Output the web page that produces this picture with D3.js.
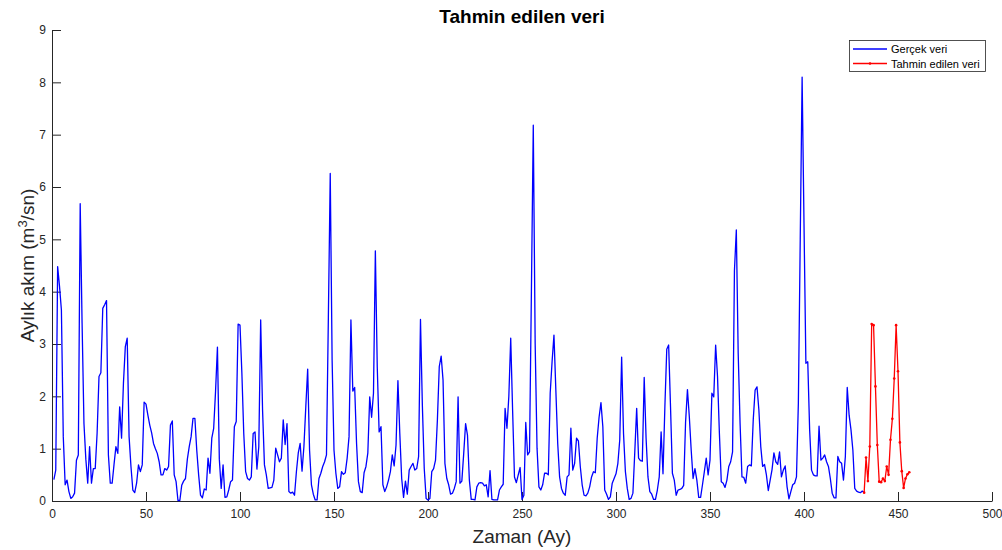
<!DOCTYPE html>
<html>
<head>
<meta charset="utf-8">
<script src="https://cdn.jsdelivr.net/npm/d3@7"></script>
<style>
  html, body { margin: 0; padding: 0; background: #fff; }
  svg { display: block; font-family: "Liberation Sans", Arial, Helvetica, sans-serif; }
</style>
</head>
<body>
<svg id="chart" width="1002" height="550"></svg>
<script>
// Monthly flow series (m3/s), months 1..432
const observedStart = 1;
const observed = [
  0.41, 0.59, 4.48, 4.10, 3.65, 1.23, 0.31, 0.40, 0.18, 0.05,
  0.08, 0.15, 0.78, 0.88, 5.68, 3.40, 1.48, 0.80, 0.34, 1.04,
  0.34, 0.62, 0.62, 1.30, 2.38, 2.45, 3.68, 3.75, 3.83, 0.88,
  0.34, 0.34, 0.70, 1.04, 0.91, 1.80, 1.20, 2.25, 2.95, 3.11,
  1.23, 0.66, 0.21, 0.16, 0.34, 0.69, 0.56, 0.69, 1.89, 1.85,
  1.64, 1.45, 1.30, 1.10, 1.00, 0.91, 0.75, 0.50, 0.50, 0.62,
  0.59, 0.66, 1.45, 1.53, 0.50, 0.37, 0.01, 0.01, 0.30, 0.38,
  0.43, 0.80, 1.04, 1.23, 1.58, 1.58, 0.97, 0.50, 0.11, 0.06,
  0.23, 0.21, 0.82, 0.53, 1.20, 1.39, 2.10, 2.94, 0.80, 0.24,
  0.69, 0.07, 0.08, 0.21, 0.37, 0.40, 1.42, 1.52, 3.38, 3.36,
  2.44, 1.29, 0.56, 0.43, 0.40, 0.46, 1.29, 1.32, 0.61, 1.04,
  3.46, 1.74, 0.69, 0.50, 0.24, 0.25, 0.26, 0.40, 1.01, 0.88,
  0.75, 0.82, 1.55, 1.08, 1.48, 0.18, 0.15, 0.17, 0.11, 0.56,
  0.92, 1.10, 0.57, 1.04, 1.80, 2.52, 0.97, 0.31, 0.13, 0.02,
  0.02, 0.43, 0.53, 0.66, 0.75, 0.88, 3.50, 6.26, 2.69, 0.97,
  0.53, 0.24, 0.27, 0.56, 0.51, 0.54, 0.82, 1.23, 3.46, 2.10,
  2.17, 1.10, 0.37, 0.18, 0.16, 0.54, 0.66, 0.92, 1.99, 1.60,
  2.06, 4.78, 2.57, 1.32, 1.42, 0.31, 0.18, 0.27, 0.40, 0.56,
  0.88, 0.67, 1.07, 2.30, 1.29, 0.43, 0.07, 0.38, 0.13, 0.59,
  0.66, 0.72, 0.59, 0.62, 0.85, 3.47, 1.83, 0.62, 0.05, 0.02,
  0.05, 0.56, 0.62, 0.78, 1.55, 2.57, 2.77, 2.31, 0.72, 0.43,
  0.31, 0.13, 0.15, 0.24, 0.37, 1.99, 0.34, 0.38, 0.91, 1.48,
  1.26, 0.40, 0.03, 0.03, 0.02, 0.27, 0.34, 0.35, 0.34, 0.29,
  0.31, 0.08, 0.58, 0.03, 0.02, 0.02, 0.02, 0.21, 0.27, 0.32,
  1.77, 1.39, 2.00, 3.11, 1.74, 0.46, 0.35, 0.50, 0.64, 0.03,
  0.11, 1.50, 0.88, 0.94, 4.00, 7.18, 3.01, 1.01, 0.27, 0.21,
  0.31, 0.53, 0.53, 0.50, 2.06, 2.66, 3.17, 2.12, 1.10, 0.46,
  0.24, 0.15, 0.11, 0.46, 0.50, 1.39, 0.59, 0.72, 1.20, 1.15,
  0.66, 0.31, 0.11, 0.10, 0.15, 0.27, 0.46, 0.56, 0.54, 1.20,
  1.60, 1.88, 1.42, 0.21, 0.13, 0.03, 0.08, 0.34, 0.43, 0.52,
  0.72, 1.17, 2.75, 1.29, 0.56, 0.24, 0.03, 0.05, 0.15, 0.94,
  1.77, 0.82, 0.77, 0.76, 2.36, 1.20, 0.46, 0.18, 0.13, 0.03,
  0.03, 0.21, 0.46, 1.32, 0.52, 1.80, 2.90, 2.98, 1.80, 0.53,
  0.40, 0.11, 0.21, 0.22, 0.24, 0.30, 1.50, 2.13, 1.61, 0.97,
  0.43, 0.62, 0.40, 0.07, 0.07, 0.31, 0.56, 0.82, 0.50, 0.78,
  2.06, 1.99, 2.98, 2.38, 1.29, 0.37, 0.34, 0.26, 0.40, 0.66,
  0.75, 0.94, 4.40, 5.18, 2.82, 1.48, 0.46, 0.45, 0.34, 0.66,
  0.69, 0.67, 1.55, 2.12, 2.18, 1.74, 1.04, 0.66, 0.70, 0.50,
  0.20, 0.40, 0.60, 0.92, 0.75, 0.70, 0.94, 0.46, 0.59, 0.67,
  0.27, 0.04, 0.18, 0.31, 0.34, 0.46, 1.87, 5.00, 8.10, 5.30,
  2.63, 2.66, 1.36, 0.59, 0.50, 0.48, 0.48, 1.43, 0.78, 0.82,
  0.88, 0.75, 0.66, 0.43, 0.15, 0.06, 0.06, 0.85, 0.75, 0.72,
  0.40, 0.85, 2.17, 1.64, 1.36, 0.97, 0.24, 0.19, 0.17, 0.16,
  0.19, 0.16
];

// Forecast series, months 432..456
const forecastStart = 432;
const forecast = [
  0.16, 0.83, 0.38, 1.04, 3.38, 3.36, 2.19, 1.07, 0.37, 0.36,
  0.43, 0.38, 0.66, 0.50, 1.17, 1.57, 2.34, 3.36, 2.48, 1.12,
  0.57, 0.25, 0.43, 0.51, 0.55
];

const xTicks = [0, 50, 100, 150, 200, 250, 300, 350, 400, 450, 500];
const yTicks = [0, 1, 2, 3, 4, 5, 6, 7, 8, 9];
const seriesNames = ["Gerçek veri", "Tahmin edilen veri"];
const chartTitle = "Tahmin edilen veri";
const xTitle = "Zaman (Ay)";

const axisColor = "#262626";
const margin = { left: 52, right: 10, top: 30, bottom: 49 };
const width = 1002, height = 550;

const svg = d3.select("#chart");
svg.append("rect").attr("width", width).attr("height", height).attr("fill", "#fff");

const x = d3.scaleLinear().domain([0, 500]).range([margin.left, width - margin.right]);
const y = d3.scaleLinear().domain([0, 9]).range([height - margin.bottom, margin.top]);

const toPoints = (vals, start) => vals.map((v, i) => ({ m: start + i, v }));
const obsPts = toPoints(observed, observedStart);
const fcPts = toPoints(forecast, forecastStart);

const line = d3.line().x(d => x(d.m)).y(d => y(d.v));

// Axes (ticks pointing inward)
const xAxis = d3.axisBottom(x).tickValues(xTicks).tickSizeInner(-9).tickSizeOuter(0).tickPadding(8);
const yAxis = d3.axisLeft(y).tickValues(yTicks).tickSizeInner(-9).tickSizeOuter(0).tickPadding(6);

const gx = svg.append("g").attr("transform", `translate(0,${y(0)})`).call(xAxis);
const gy = svg.append("g").attr("transform", `translate(${x(0)},0)`).call(yAxis);
[gx, gy].forEach(g => {
  g.select(".domain").attr("stroke", axisColor).attr("stroke-width", 1);
  g.selectAll(".tick line").attr("stroke", axisColor).attr("stroke-width", 1);
  g.selectAll(".tick text").attr("fill", axisColor)
    .style("font-family", "'Liberation Sans', Arial, sans-serif").style("font-size", "12px");
});

// Series
svg.append("path").datum(obsPts)
  .attr("fill", "none").attr("stroke", "#0000ff").attr("stroke-width", 1.3)
  .attr("stroke-linejoin", "round").attr("d", line);

svg.append("path").datum(fcPts)
  .attr("fill", "none").attr("stroke", "#ff0000").attr("stroke-width", 1.3)
  .attr("stroke-linejoin", "round").attr("d", line);

svg.append("g").selectAll("circle").data(fcPts).join("circle")
  .attr("cx", d => x(d.m)).attr("cy", d => y(d.v)).attr("r", 1.3)
  .attr("fill", "#ff0000");

// Title and axis labels
svg.append("text").attr("x", (x(0) + x(500)) / 2).attr("y", 23)
  .attr("text-anchor", "middle").attr("font-weight", "bold").attr("font-size", 19)
  .attr("fill", "#000").text(chartTitle);

svg.append("text").attr("x", (x(0) + x(500)) / 2).attr("y", 543)
  .attr("text-anchor", "middle").attr("font-size", 19).attr("fill", axisColor).text(xTitle);

const yl = svg.append("text")
  .attr("transform", `translate(34,${(y(0) + y(9)) / 2}) rotate(-90)`)
  .attr("text-anchor", "middle").attr("font-size", 19).attr("fill", axisColor);
yl.append("tspan").text("Aylık akım (m");
yl.append("tspan").attr("font-size", 13).attr("dy", -7).text("3");
yl.append("tspan").attr("dy", 7).text("/sn)");

// Legend
const lg = svg.append("g");
lg.append("rect").attr("x", 849.5).attr("y", 40.5).attr("width", 136).attr("height", 31)
  .attr("fill", "#fff").attr("stroke", axisColor).attr("stroke-width", 0.8);
const legendColors = ["#0000ff", "#ff0000"];
seriesNames.forEach((name, i) => {
  const ly = 49 + i * 14.5;
  lg.append("line").attr("x1", 853).attr("x2", 887).attr("y1", ly).attr("y2", ly)
    .attr("stroke", legendColors[i]).attr("stroke-width", 1.3);
  if (i === 1) {
    lg.append("circle").attr("cx", 870).attr("cy", ly).attr("r", 1.3).attr("fill", legendColors[i]);
  }
  lg.append("text").attr("x", 891).attr("y", ly + 4).attr("font-size", 11)
    .attr("fill", "#000").text(name);
});
</script>
</body>
</html>
